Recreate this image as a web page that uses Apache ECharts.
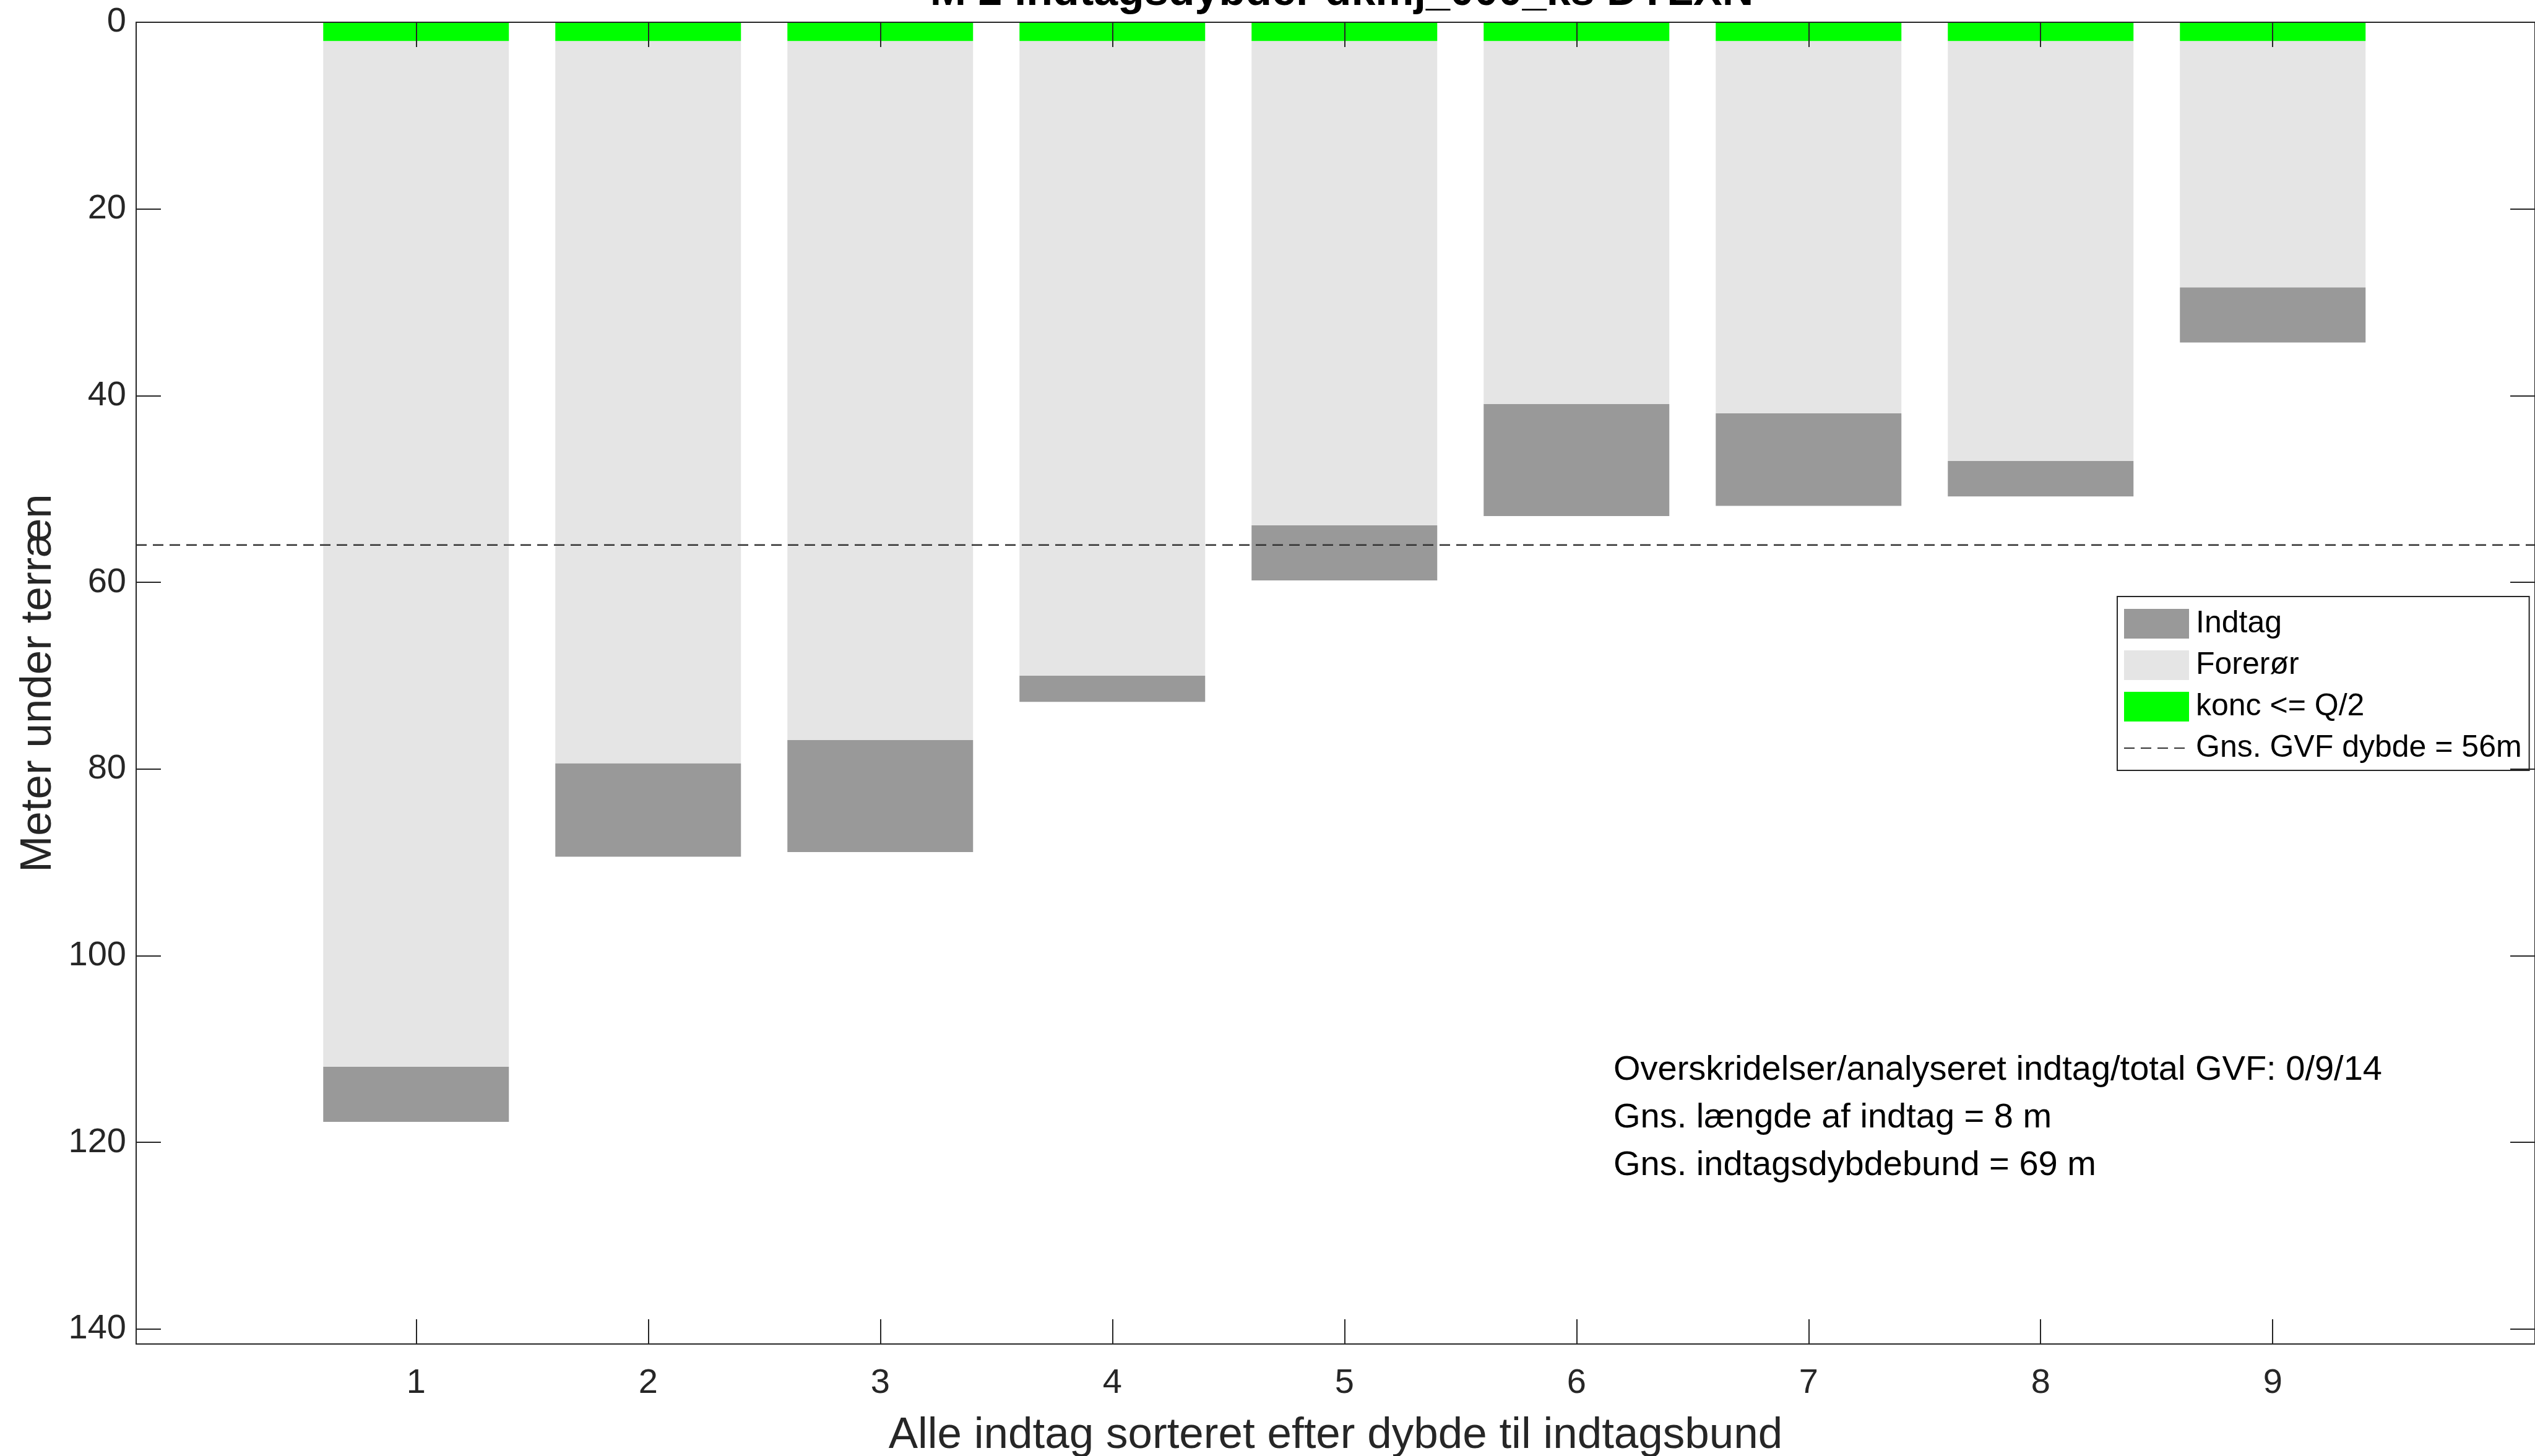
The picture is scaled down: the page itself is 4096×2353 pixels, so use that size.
<!DOCTYPE html>
<html><head><meta charset="utf-8">
<script src="https://cdn.jsdelivr.net/npm/echarts@6/dist/echarts.min.js"></script>
<style>html,body{margin:0;padding:0;background:#fff}#c{width:4096px;height:2353px}</style>
</head><body><div id="c"></div>
<script>
// ---- data ----
const intakeNo       = [1, 2, 3, 4, 5, 6, 7, 8, 9];
const concBandBottom = [2, 2, 2, 2, 2, 2, 2, 2, 2];
const intakeTop      = [111.9, 79.4, 76.9, 70.0, 53.9, 40.9, 41.9, 47.0, 28.4];
const intakeBottom   = [117.8, 89.4, 88.9, 72.8, 59.8, 52.9, 51.8, 50.8, 34.3];
const gvfMeanDepth   = 56;
const xTickValues    = [1, 2, 3, 4, 5, 6, 7, 8, 9];
const yTickValues    = [0, 20, 40, 60, 80, 100, 120, 140];
const xRange         = [-0.206, 10.13];
const yRange         = [0, 141.6];
const titleText      = 'M 2 indtagsdybder dkmj_000_ks DYLXN';
const xName          = 'Alle indtag sorteret efter dybde til indtagsbund';
const yName          = 'Meter under terræn';
const legendNames    = ['Indtag', 'Forerør', 'konc <= Q/2', 'Gns. GVF dybde = ' + gvfMeanDepth + 'm'];
const infoLines      = ['Overskridelser/analyseret indtag/total GVF: 0/9/14',
                        'Gns. længde af indtag = 8 m',
                        'Gns. indtagsdybdebund = 69 m'];

// ---- chart ----
const FONT = "'Liberation Sans', Arial, Helvetica, sans-serif";
const AX = '#262626';
const HALF = 0.4;

function rectItem(params, api) {
  const x = api.value(0), a = api.value(1), b = api.value(2);
  const p0 = api.coord([x - HALF, a]);
  const p1 = api.coord([x + HALF, b]);
  return {
    type: 'rect',
    shape: { x: p0[0], y: Math.min(p0[1], p1[1]), width: p1[0] - p0[0], height: Math.abs(p1[1] - p0[1]) },
    style: { fill: api.visual('color') }
  };
}

const forerData = intakeNo.map((n, i) => [n, concBandBottom[i], intakeTop[i]]);
const indtagData = intakeNo.map((n, i) => [n, intakeTop[i], intakeBottom[i]]);
const concData = intakeNo.map((n, i) => [n, 0, concBandBottom[i]]);

const chart = echarts.init(document.getElementById('c'), null, { renderer: 'canvas' });

const axisCommon = {
  axisLine: { show: true, onZero: false, lineStyle: { color: AX, width: 2 } },
  splitLine: { show: false }
};

chart.setOption({
  animation: false,
  backgroundColor: '#fff',
  textStyle: { fontFamily: FONT },
  grid: { left: 220, top: 36, right: 0, bottom: 181, outerBoundsMode: 'none' },
  xAxis: [
    Object.assign({}, axisCommon, {
      type: 'value', position: 'bottom', min: xRange[0], max: xRange[1],
      axisTick: { show: true, inside: true, length: 40, lineStyle: { color: AX, width: 2 }, customValues: xTickValues },
      axisLabel: { show: true, fontSize: 56, color: AX, margin: 36, fontFamily: FONT, customValues: xTickValues },
      name: xName, nameLocation: 'middle', nameGap: 113,
      nameTextStyle: { fontSize: 71, color: AX, fontFamily: FONT }
    }),
    Object.assign({}, axisCommon, {
      type: 'value', position: 'top', min: xRange[0], max: xRange[1], z: 10,
      axisTick: { show: true, inside: true, length: 40, lineStyle: { color: AX, width: 2 }, customValues: xTickValues },
      axisLabel: { show: false }
    })
  ],
  yAxis: [
    Object.assign({}, axisCommon, {
      type: 'value', position: 'left', inverse: true, min: yRange[0], max: yRange[1],
      axisTick: { show: true, inside: true, length: 40, lineStyle: { color: AX, width: 2 }, customValues: yTickValues },
      axisLabel: { show: true, fontSize: 56, color: AX, margin: 16, fontFamily: FONT, customValues: yTickValues },
      name: yName, nameLocation: 'middle', nameGap: 122, nameRotate: 90,
      nameTextStyle: { fontSize: 71, color: AX, fontFamily: FONT }
    }),
    Object.assign({}, axisCommon, {
      type: 'value', position: 'right', inverse: true, min: yRange[0], max: yRange[1], z: 10,
      axisTick: { show: true, inside: true, length: 40, lineStyle: { color: AX, width: 2 }, customValues: yTickValues },
      axisLabel: { show: false }
    })
  ],
  legend: {
    orient: 'vertical', left: 3421, top: 964,
    padding: [19, 12, 11, 10],
    itemWidth: 105, itemHeight: 48, itemGap: 17,
    borderColor: AX, borderWidth: 2, backgroundColor: '#fff',
    textStyle: { fontSize: 50, color: '#000', fontFamily: FONT, padding: [0, 0, 0, 6] },
    data: [
      { name: legendNames[0], icon: 'rect' },
      { name: legendNames[1], icon: 'rect' },
      { name: legendNames[2], icon: 'rect' },
      { name: legendNames[3], itemStyle: { opacity: 0 } }
    ]
  },
  series: [
    { type: 'custom', name: legendNames[1], renderItem: rectItem, data: forerData,
      itemStyle: { color: '#e5e5e5' }, encode: { x: 0, y: [1, 2] }, z: 2 },
    { type: 'custom', name: legendNames[0], renderItem: rectItem, data: indtagData,
      itemStyle: { color: '#999999' }, encode: { x: 0, y: [1, 2] }, z: 3 },
    { type: 'custom', name: legendNames[2], renderItem: rectItem, data: concData,
      itemStyle: { color: '#00ff00' }, encode: { x: 0, y: [1, 2] }, z: 3 },
    { type: 'line', name: legendNames[3], data: [[xRange[0], gvfMeanDepth], [xRange[1], gvfMeanDepth]],
      symbol: 'none', showSymbol: false, z: 5, itemStyle: { color: '#333333' },
      lineStyle: { color: '#333333', width: 2.5, type: [17, 10] } }
  ],
  graphic: [
    { type: 'text', x: 2168, y: -11, z: 20,
      style: { text: titleText, font: 'bold 70px ' + FONT, fill: '#000', textAlign: 'center', textVerticalAlign: 'middle' } },
    { type: 'text', x: 2607, y: 1691, z: 20,
      style: { text: infoLines.join('\n'), font: '56px ' + FONT, fill: '#000', lineHeight: 77, textAlign: 'left', textVerticalAlign: 'top' } }
  ]
});
</script>
</body></html>
